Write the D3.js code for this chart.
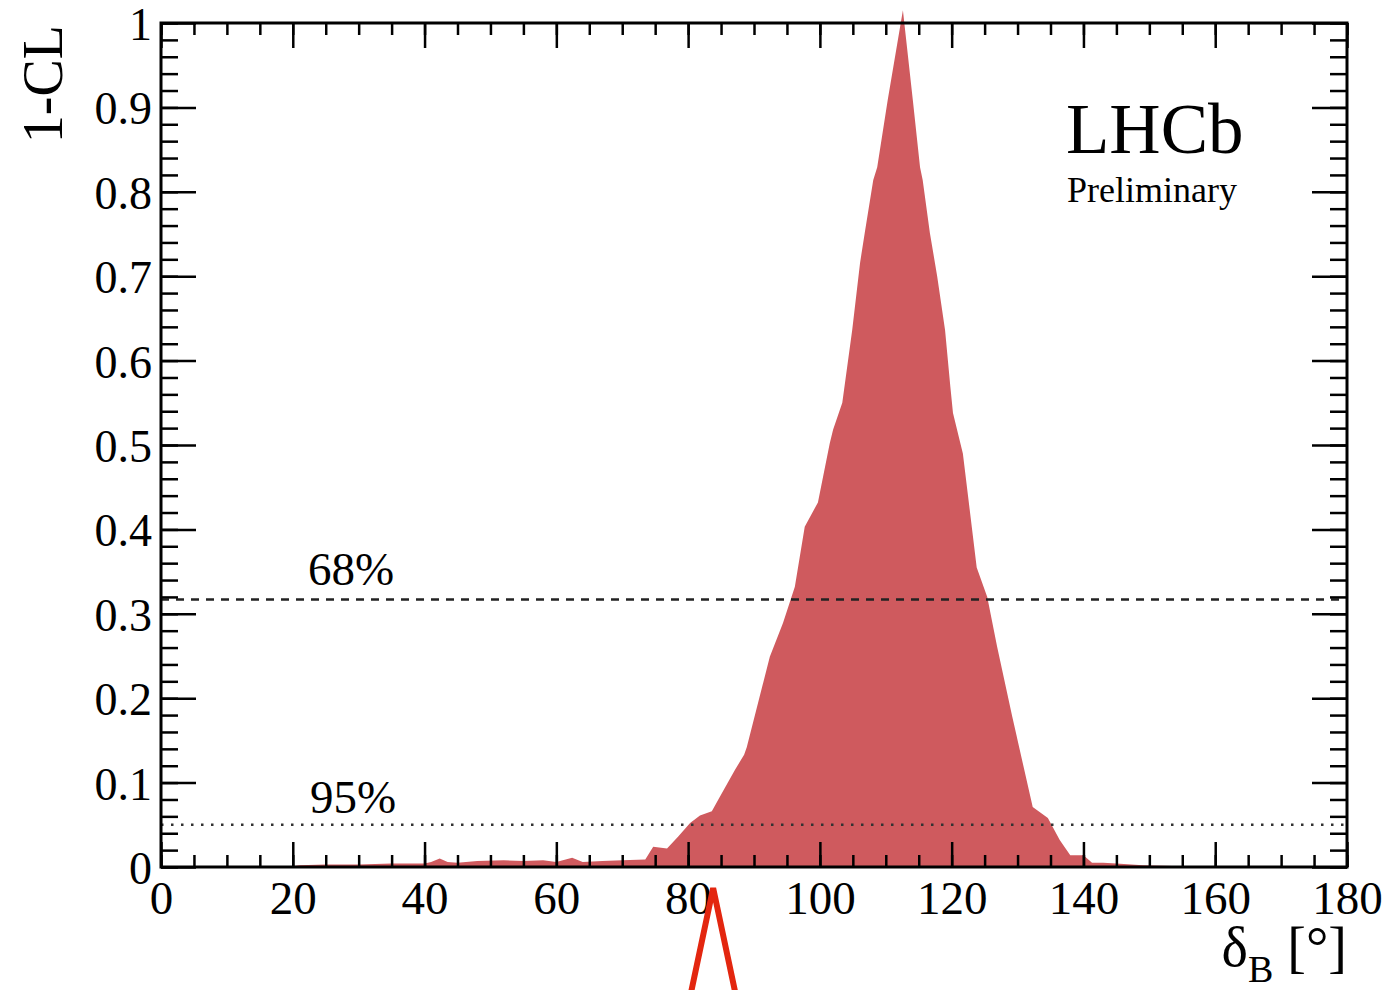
<!DOCTYPE html>
<html>
<head>
<meta charset="utf-8">
<script src="https://cdn.jsdelivr.net/npm/d3@7"></script>
<style>
  html, body { margin: 0; padding: 0; background: #fff; }
  svg { display: block; }
  text { font-family: "Liberation Serif", "Times New Roman", serif; fill: #000; }
</style>
</head>
<body>
<svg id="chart" width="1388" height="990"></svg>
<script>
// p-value scan of the strong phase delta_B
const deltaB = [0, 10, 20, 21, 25, 30, 35, 40, 41, 42.3, 43.5, 45, 48, 52, 55, 58, 60, 62.4, 64, 67, 70, 73.5,
  74.7, 76.8, 78.5, 80.3, 81.8, 83.6, 84.8, 87.1, 88.5, 88.9, 92.4, 94.4, 96.2, 97.7, 99.7, 101.5, 102, 103.4,
  104.9, 106.1, 106.8, 108.1, 108.7, 110.3, 112.6, 114.1, 115.2, 115.6, 116.7, 117.8, 119, 119.8, 120.2, 121.7,
  123.8, 125.4, 126.9, 129.2, 132.3, 134.6, 136.4, 138, 140, 141.3, 143, 145, 149, 155, 180];
const oneMinusCL = [0.001, 0.001, 0.001, 0.002, 0.003, 0.003, 0.004, 0.004, 0.006, 0.010, 0.006, 0.005, 0.007, 0.008,
  0.007, 0.008, 0.006, 0.011, 0.006, 0.007, 0.008, 0.009,
  0.024, 0.022, 0.036, 0.052, 0.061, 0.066, 0.083, 0.115, 0.133, 0.142, 0.249, 0.289, 0.332, 0.403, 0.432, 0.502, 0.518, 0.550,
  0.636, 0.716, 0.751, 0.814, 0.829, 0.909, 1.015, 0.909, 0.829, 0.814, 0.751, 0.700, 0.636, 0.569, 0.538, 0.490,
  0.355, 0.320, 0.261, 0.178, 0.071, 0.058, 0.032, 0.014, 0.014, 0.005, 0.005, 0.004, 0.002, 0.001, 0.000];

// confidence-level reference lines
const clLevels = [0.317, 0.05];
const clLabels = ["68%", "95%"];

// axis ticks
const xMajorTicks = [0, 20, 40, 60, 80, 100, 120, 140, 160, 180];
const yMajorTicks = [0, 0.1, 0.2, 0.3, 0.4, 0.5, 0.6, 0.7, 0.8, 0.9, 1];
const xMinorTicks = d3.range(0, 181, 5);
const yMinorTicks = d3.range(0, 51).map(i => i * 0.02);

// arrow marker below the axis
const markerDelta = 83.8;

const svg = d3.select("#chart");
const frame = { left: 161, right: 1347, top: 23, bottom: 867 };

const x = d3.scaleLinear().domain([0, 180]).range([frame.left, frame.right]);
const y = d3.scaleLinear().domain([0, 1]).range([frame.bottom, frame.top]);

// filled scan curve
const pts = deltaB.map((d, i) => [d, oneMinusCL[i]]);
const area = d3.area()
  .x(d => x(d[0]))
  .y0(y(0))
  .y1(d => y(d[1]));
svg.append("path")
  .datum(pts)
  .attr("d", area)
  .attr("fill", "#cf5a5e")
  .attr("stroke", "none");

// CL lines
svg.append("line")
  .attr("x1", frame.left).attr("x2", frame.right)
  .attr("y1", y(clLevels[0])).attr("y2", y(clLevels[0]))
  .attr("stroke", "#222").attr("stroke-width", 2.5)
  .attr("stroke-dasharray", "8,7");
svg.append("line")
  .attr("x1", frame.left).attr("x2", frame.right)
  .attr("y1", y(clLevels[1])).attr("y2", y(clLevels[1]))
  .attr("stroke", "#333").attr("stroke-width", 2.5)
  .attr("stroke-dasharray", "2.5,7.5");

svg.append("text").attr("x", 308).attr("y", y(clLevels[0]) - 14)
  .attr("font-size", 47).text(clLabels[0]);
svg.append("text").attr("x", 310).attr("y", y(clLevels[1]) - 12)
  .attr("font-size", 47).text(clLabels[1]);

// axes with inward ticks on all four sides
const tickStyle = g => {
  g.select(".domain").remove();
  g.selectAll(".tick line").attr("stroke", "#000").attr("stroke-width", 2.5);
};

const yFmt = d => (d === 0 || d === 1) ? String(d) : d.toFixed(1);

// bottom
svg.append("g").attr("transform", `translate(0,${frame.bottom})`)
  .call(d3.axisTop(x).tickValues(xMinorTicks).tickSize(12).tickFormat(""))
  .call(tickStyle);
const xAx = svg.append("g").attr("transform", `translate(0,${frame.bottom})`)
  .call(d3.axisTop(x).tickValues(xMajorTicks).tickSize(25).tickFormat(d3.format("d")))
  .call(tickStyle);
xAx.selectAll(".tick text")
  .attr("y", 47).attr("dy", 0)
  .attr("font-size", 47).attr("font-family", "Liberation Serif").attr("fill", "#000");

// top
svg.append("g").attr("transform", `translate(0,${frame.top})`)
  .call(d3.axisBottom(x).tickValues(xMinorTicks).tickSize(12).tickFormat(""))
  .call(tickStyle);
svg.append("g").attr("transform", `translate(0,${frame.top})`)
  .call(d3.axisBottom(x).tickValues(xMajorTicks).tickSize(25).tickFormat(""))
  .call(tickStyle);

// left
svg.append("g").attr("transform", `translate(${frame.left},0)`)
  .call(d3.axisRight(y).tickValues(yMinorTicks).tickSize(17).tickFormat(""))
  .call(tickStyle);
const yAx = svg.append("g").attr("transform", `translate(${frame.left},0)`)
  .call(d3.axisRight(y).tickValues(yMajorTicks).tickSize(35).tickFormat(yFmt))
  .call(tickStyle);
yAx.selectAll(".tick text")
  .attr("x", -9).attr("dy", "0.36em")
  .attr("text-anchor", "end")
  .attr("font-size", 46).attr("font-family", "Liberation Serif").attr("fill", "#000");

// right
svg.append("g").attr("transform", `translate(${frame.right},0)`)
  .call(d3.axisLeft(y).tickValues(yMinorTicks).tickSize(17).tickFormat(""))
  .call(tickStyle);
svg.append("g").attr("transform", `translate(${frame.right},0)`)
  .call(d3.axisLeft(y).tickValues(yMajorTicks).tickSize(35).tickFormat(""))
  .call(tickStyle);

// frame
svg.append("rect")
  .attr("x", frame.left).attr("y", frame.top)
  .attr("width", frame.right - frame.left).attr("height", frame.bottom - frame.top)
  .attr("fill", "none").attr("stroke", "#000").attr("stroke-width", 3);

// axis titles
svg.append("text")
  .attr("transform", `translate(62,${frame.top + 2}) rotate(-90)`)
  .attr("text-anchor", "end")
  .attr("font-size", 56)
  .text("1-CL");

const xt = svg.append("text")
  .attr("x", frame.right).attr("y", 966)
  .attr("text-anchor", "end")
  .attr("font-size", 56);
xt.append("tspan").text("δ");
xt.append("tspan").attr("font-size", 38).attr("dy", 16).text("B");
xt.append("tspan").attr("dy", -16).text(" [°]");

// experiment label
svg.append("text").attr("x", 1066).attr("y", 153)
  .attr("font-size", 71).text("LHCb");
svg.append("text").attr("x", 1067).attr("y", 202)
  .attr("font-size", 36).text("Preliminary");

// red marker below the axis
const mx = x(markerDelta);
svg.append("path")
  .attr("d", d3.line()([[mx - 22, 992], [mx, 888], [mx + 22, 992]]))
  .attr("fill", "none")
  .attr("stroke", "#e3260f")
  .attr("stroke-width", 6)
  .attr("stroke-linejoin", "miter");
</script>
</body>
</html>
